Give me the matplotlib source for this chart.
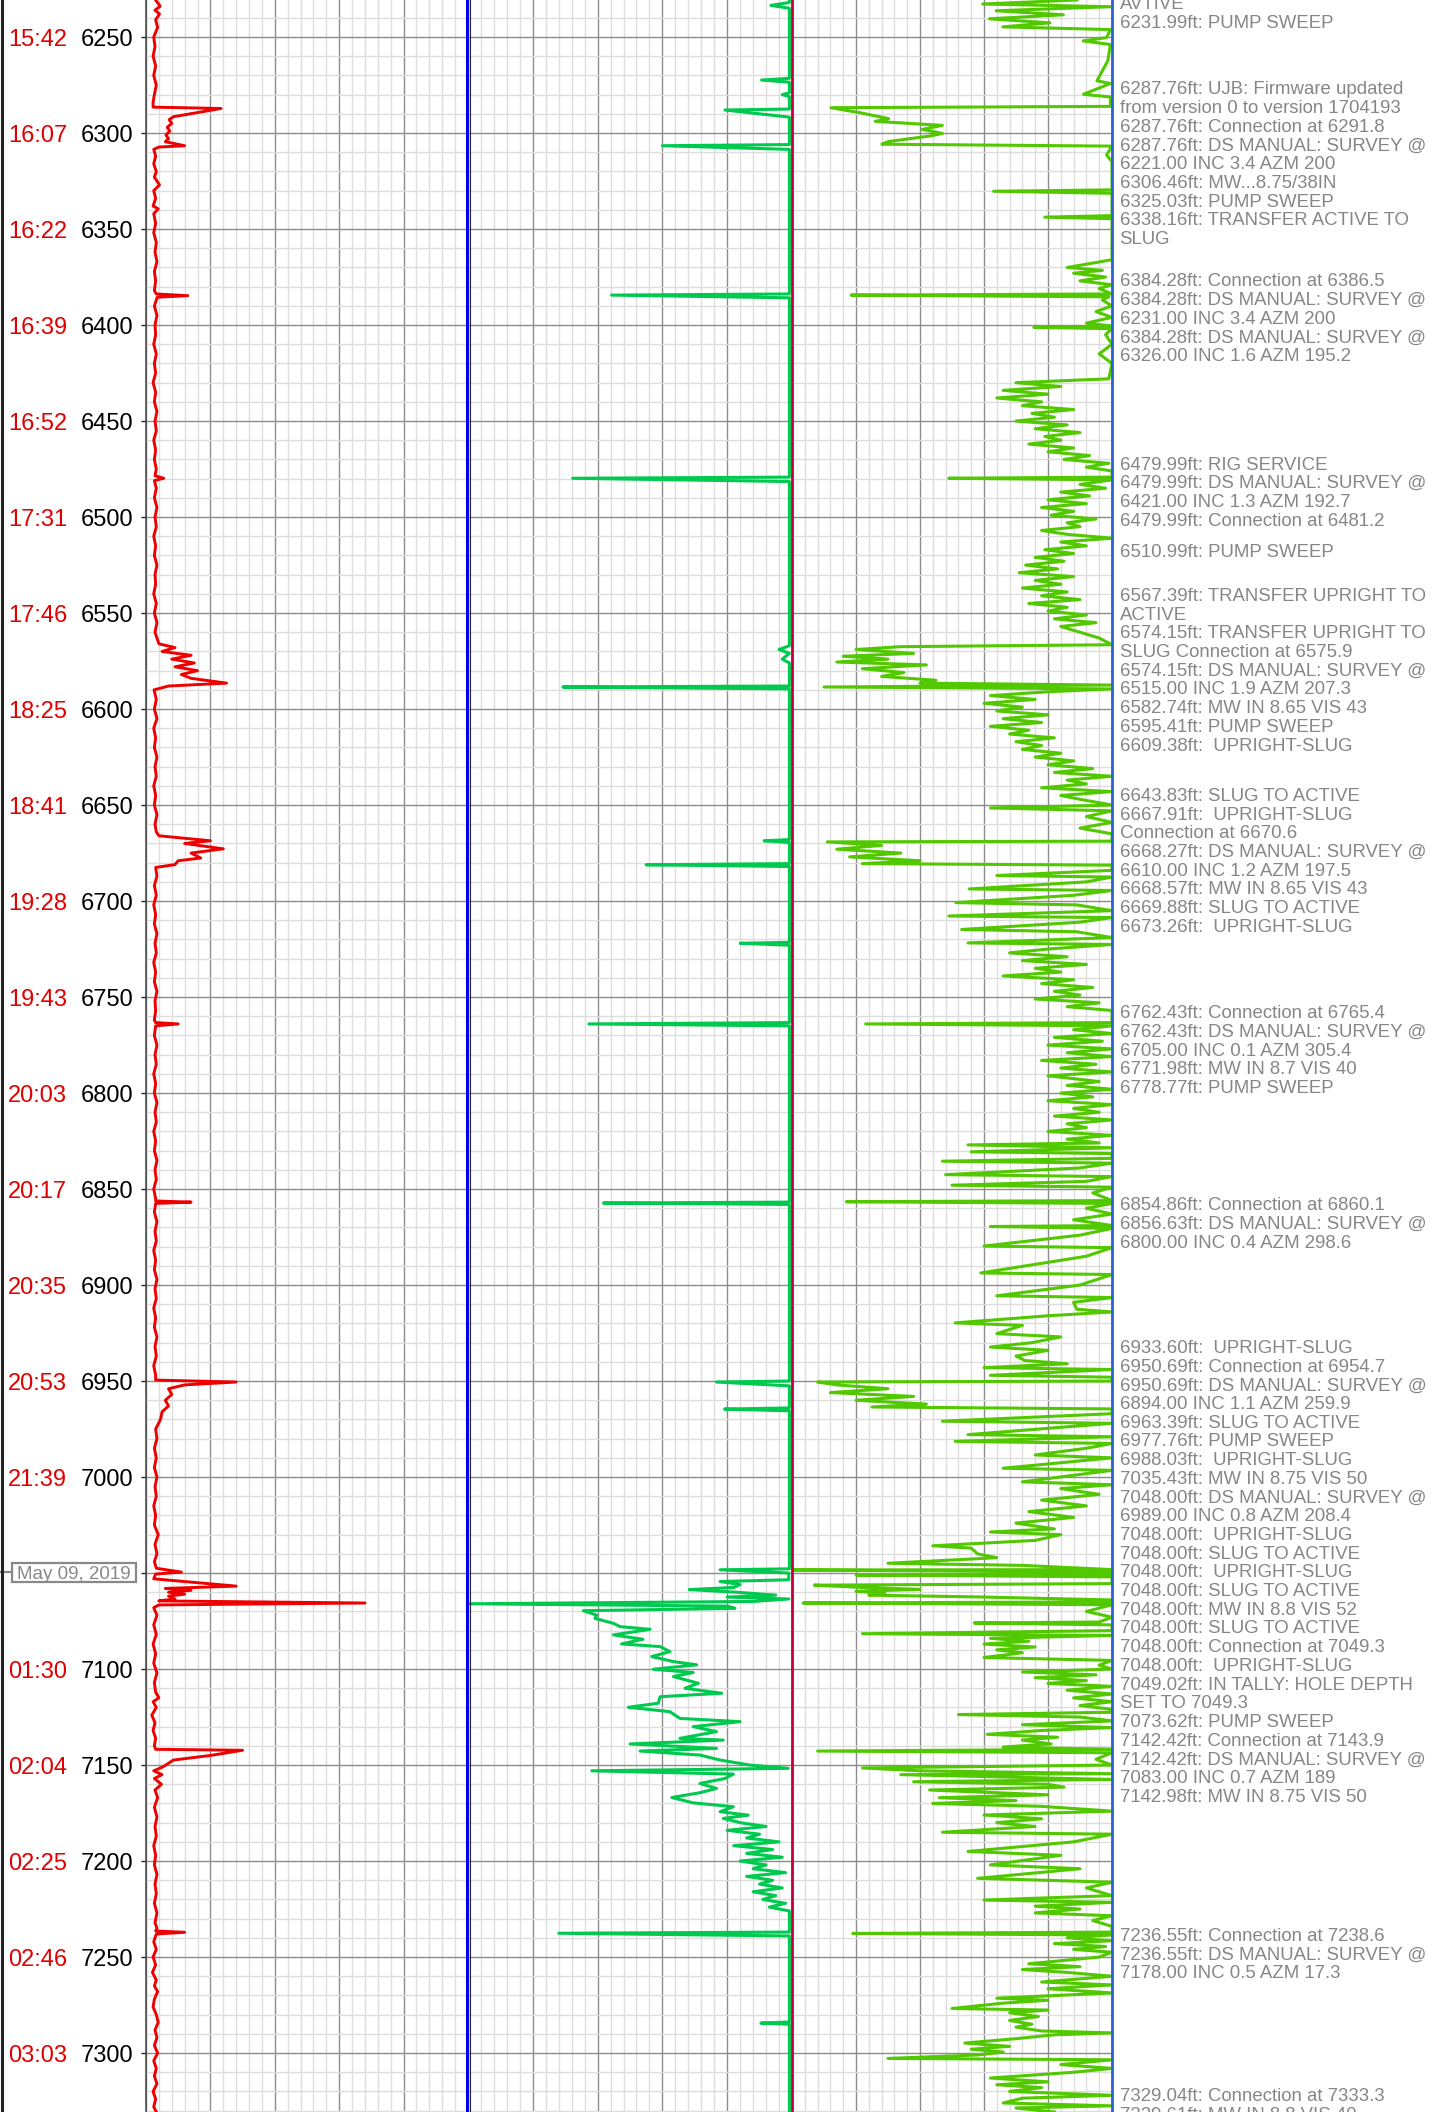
import matplotlib
matplotlib.use("Agg")
import matplotlib.pyplot as plt
import matplotlib.transforms as mtrans
from matplotlib.lines import Line2D
from matplotlib.patches import Rectangle
from matplotlib.ticker import MultipleLocator

plt.rcParams["font.family"] = ["Liberation Sans", "DejaVu Sans"]

# depth axis (the 7050 row sits under the date marker)
depth_ticks = list(range(6250, 7301, 50))
time_labels = ["15:42", "16:07", "16:22", "16:39", "16:52", "17:31", "17:46", "18:25",
               "18:41", "19:28", "19:43", "20:03", "20:17", "20:35", "20:53", "21:39",
               "", "01:30", "02:04", "02:25", "02:46", "03:03"]
date_label = "May 09, 2019"
date_depth = 7049.5

# track 1 (red) : depth, value (0-100 scale)
red_pts = [
    (6230.7, 3.0), (6234, 4.4), (6236, 2.8), (6238, 4.2), (6241, 3.0), (6245, 3.6), (6250, 2.4),
    (6255, 2.8), (6260, 2.2), (6265, 3.0), (6270, 2.4), (6275, 3.2), (6280, 2.6), (6284, 2.2),
    (6286.5, 2.2), (6287.2, 23.3), (6291.5, 8.5), (6293, 7.2), (6295, 8.0), (6297, 6.6),
    (6299, 7.4), (6301, 6.2), (6303, 7.0), (6304.5, 6.0), (6306.6, 12.0), (6307.3, 4.0),
    (6308.5, 2.4), (6312, 3.0), (6316, 2.4), (6320, 3.2), (6323, 2.6), (6327, 4.2), (6330, 2.4),
    (6334, 3.0), (6338, 2.2), (6339.5, 3.8), (6342, 2.4), (6347, 3.0), (6352, 2.4), (6357, 3.2),
    (6362, 2.8), (6367, 3.4), (6372, 2.6), (6377, 3.0), (6382, 2.6), (6383.8, 3.2),
    (6384.7, 13.0), (6385.5, 3.5), (6390, 2.6), (6395, 3.4), (6400, 2.8), (6405, 3.0),
    (6410, 2.4), (6415, 3.2), (6420, 2.6), (6425, 3.0), (6430, 2.2), (6435, 3.0), (6440, 2.6),
    (6445, 3.4), (6450, 2.8), (6455, 3.2), (6460, 2.4), (6465, 3.0), (6470, 2.6), (6475, 3.2),
    (6478.5, 2.8), (6479.8, 5.5), (6481, 2.6), (6485, 3.2), (6490, 2.6), (6495, 3.4),
    (6500, 2.8), (6505, 3.2), (6510, 2.4), (6515, 3.0), (6520, 2.6), (6525, 3.4), (6530, 2.8),
    (6535, 3.0), (6540, 2.4), (6545, 3.2), (6550, 2.6), (6555, 3.4), (6560, 2.8), (6564, 3.6),
    (6566, 4.0), (6568, 9.0), (6570, 5.0), (6572, 14.0), (6574, 8.0), (6576, 15.0), (6578, 9.0),
    (6580, 16.0), (6582, 11.0), (6584, 14.0), (6586.5, 25.0), (6588, 7.0), (6590, 2.5),
    (6595, 3.2), (6600, 2.6), (6605, 3.4), (6610, 2.4), (6615, 3.0), (6620, 2.6), (6625, 3.4),
    (6630, 2.8), (6635, 3.2), (6640, 2.4), (6645, 3.0), (6650, 2.6), (6655, 3.4), (6660, 2.8),
    (6664, 3.2), (6666, 4.0), (6668.6, 20.0), (6670, 12.0), (6672.8, 24.0), (6675, 14.0),
    (6677.6, 17.0), (6679, 10.0), (6681, 9.0), (6682.5, 3.0), (6687, 3.4), (6692, 2.6),
    (6697, 3.2), (6702, 2.4), (6707, 3.0), (6712, 2.6), (6717, 3.4), (6722, 2.8), (6727, 3.2),
    (6732, 2.4), (6737, 3.0), (6742, 2.6), (6747, 3.4), (6752, 2.8), (6757, 3.0), (6762, 2.6),
    (6763.3, 3.0), (6764, 10.0), (6765, 3.0), (6770, 2.6), (6775, 3.4), (6780, 2.8),
    (6785, 3.2), (6790, 2.4), (6795, 3.0), (6800, 2.6), (6805, 3.4), (6810, 2.8), (6815, 3.2),
    (6820, 2.4), (6825, 3.0), (6830, 2.6), (6835, 3.4), (6840, 2.8), (6845, 3.2), (6850, 2.4),
    (6855, 3.0), (6856.2, 3.0), (6856.8, 14.0), (6857.5, 3.0), (6862, 2.6), (6867, 3.4),
    (6872, 2.8), (6877, 3.2), (6882, 2.4), (6887, 3.0), (6892, 2.6), (6897, 3.4), (6902, 2.8),
    (6907, 3.2), (6912, 2.4), (6917, 3.0), (6922, 2.6), (6927, 3.4), (6932, 2.8), (6937, 3.2),
    (6942, 2.4), (6947, 3.0), (6949.5, 3.0), (6950.5, 28.0), (6952, 12.0), (6954, 7.0),
    (6957, 8.0), (6960, 6.0), (6963, 7.0), (6966, 5.0), (6970, 4.5), (6975, 3.0), (6980, 3.4),
    (6985, 2.6), (6990, 3.2), (6995, 2.6), (7000, 3.4), (7005, 2.8), (7010, 3.2), (7015, 2.4),
    (7020, 3.0), (7025, 2.6), (7030, 3.8), (7035, 2.8), (7040, 3.4), (7044, 2.6), (7047.5, 3.2),
    (7049.5, 11.0), (7050.5, 3.0), (7053, 2.4), (7056.8, 28.0), (7058, 6.0), (7059, 14.0),
    (7060, 7.0), (7061, 12.0), (7062, 7.0), (7063.5, 9.0), (7064.5, 4.0), (7065.6, 68.0),
    (7066.6, 4.0), (7068, 2.4), (7072, 3.4), (7077, 2.4), (7082, 3.2), (7087, 2.2), (7092, 3.0),
    (7097, 2.4), (7102, 3.4), (7107, 2.6), (7112, 3.0), (7115, 4.0), (7117, 2.2), (7120, 3.2),
    (7124, 1.8), (7128, 2.8), (7132, 2.2), (7136, 3.0), (7140, 2.6), (7141.8, 3.0),
    (7142.3, 30.0), (7145, 20.0), (7147.4, 8.5), (7150.9, 5.3), (7153, 2.4), (7155, 5.0),
    (7157, 2.6), (7160, 4.8), (7163, 2.8), (7167, 3.6), (7172, 2.6), (7177, 3.4), (7182, 2.8),
    (7187, 3.2), (7192, 2.4), (7197, 3.0), (7202, 2.6), (7207, 3.4), (7212, 2.8), (7217, 3.2),
    (7222, 2.6), (7227, 3.4), (7232, 2.8), (7235, 3.4), (7236.4, 3.0), (7237.1, 12.0),
    (7238, 3.2), (7242, 2.4), (7246, 3.2), (7250, 2.2), (7254, 3.0), (7258, 2.0), (7262, 3.2),
    (7265, 2.6), (7268, 3.6), (7272, 2.6), (7276, 2.2), (7280, 3.2), (7284, 3.8), (7288, 2.8),
    (7292, 3.4), (7296, 2.6), (7300, 3.6), (7304, 2.4), (7308, 3.2), (7312, 2.6), (7316, 3.4),
    (7320, 2.2), (7324, 3.0), (7328, 2.4), (7330.7, 3.2),
]

# track 2 (green)
green_pts = [
    (6230.7, 99.2), (6232, 99.2), (6233.5, 93.5), (6235, 99.2), (6271.5, 99.2), (6272.4, 90.6),
    (6273.5, 99.2), (6279, 99.2), (6280, 97.0), (6281, 99.2), (6287.5, 99.2), (6288, 79.3),
    (6291.7, 99.2), (6306, 99.2), (6306.6, 60.0), (6308.5, 99.2), (6383.8, 99.2), (6384.4, 44.3),
    (6385.8, 99.2), (6479.2, 99.2), (6479.8, 32.3), (6481.5, 99.2), (6567, 99.2), (6569, 96.0),
    (6571, 99.2), (6574, 97.0), (6576, 99.2), (6588, 99.2), (6588.5, 29.3), (6589.5, 99.2),
    (6668, 99.2), (6668.6, 91.4), (6669.5, 99.2), (6680.5, 99.2), (6681.1, 55.0), (6682, 99.2),
    (6721.5, 99.2), (6722, 84.0), (6723, 99.2), (6763.3, 99.2), (6764, 37.3), (6765, 99.2),
    (6856.8, 99.2), (6857.3, 41.8), (6858, 99.2), (6950, 99.2), (6950.5, 76.7), (6952.5, 99.2),
    (6964, 99.2), (6964.6, 79.2), (6965.5, 99.2), (7047.8, 99.2), (7048.3, 77.8), (7050, 99.0),
    (7053.5, 99.0), (7054.4, 77.8), (7056, 84.0), (7057.5, 82.0), (7058.6, 68.3), (7060, 83.0),
    (7061.5, 95.0), (7062.5, 80.0), (7063.5, 99.0), (7064.8, 88.0), (7066, 0.6), (7067.2, 80.0),
    (7068.4, 82.4), (7069.6, 35.6), (7071.9, 39.7), (7073.6, 39.2), (7076.2, 44.9),
    (7077.9, 46.9), (7079.3, 56.2), (7082.2, 44.9), (7084.5, 54.0), (7086.9, 47.4),
    (7088.3, 59.3), (7090.9, 62.3), (7093.5, 56.7), (7096.1, 63.4), (7097.8, 70.6),
    (7100.1, 57.2), (7101.8, 69.5), (7103.9, 63.4), (7107.4, 71.1), (7110, 67.0), (7112.6, 78.3),
    (7114.4, 59.3), (7117.8, 58.7), (7119.9, 49.5), (7122.2, 62.3), (7125.7, 65.4), (7127.4, 84.0),
    (7130, 69.5), (7132.6, 76.7), (7136.1, 65.4), (7137, 78.8), (7139, 50.0), (7141.3, 76.7),
    (7142.7, 53.1), (7144.8, 71.6), (7147.4, 77.8), (7150, 87.0), (7151.7, 98.8), (7153, 38.2),
    (7154.7, 81.9), (7157, 79.3), (7159.6, 71.6), (7162.2, 76.7), (7164.4, 71.6), (7166.9, 62.9),
    (7169.7, 69.5), (7171.7, 81.9), (7174.3, 77.8), (7176.1, 86.5), (7177.8, 78.8), (7180, 84.0),
    (7182, 92.0), (7184, 80.0), (7186, 90.0), (7188, 86.0), (7190, 96.0), (7192, 82.0),
    (7194, 94.0), (7196, 86.0), (7198, 97.0), (7200, 84.0), (7202, 92.0), (7204, 88.0),
    (7206, 98.0), (7208, 86.0), (7210, 94.0), (7212, 90.0), (7214, 97.0), (7216, 88.0),
    (7218, 95.0), (7220, 91.0), (7222, 98.0), (7224, 93.0), (7226, 99.2), (7237, 99.2),
    (7237.6, 28.0), (7239, 99.2), (7283.8, 99.2), (7284.4, 90.4), (7285, 99.2), (7330.7, 99.2),
]

# track 3 (lime)
lime_pts = [
    (6230.7, 89), (6232.8, 59.6), (6234.2, 99.5), (6236.3, 63.8), (6238.4, 84.8), (6240.5, 61.7),
    (6242.6, 80.6), (6244.7, 65.9), (6246.1, 99.5), (6250.3, 98.3), (6252, 91), (6253.9, 99.5),
    (6262.3, 98.7), (6272.8, 95.3), (6274.2, 99.5), (6279.8, 91.1), (6281.2, 99.5), (6286.1, 99.5),
    (6286.8, 12.2), (6289.6, 21.8), (6292.5, 30.2), (6293.9, 26), (6296, 47), (6298.1, 40.7),
    (6300.2, 47), (6301.6, 42.8), (6304.4, 30.2), (6305.8, 28.1), (6306.8, 100), (6311.4, 98.3),
    (6314.9, 100), (6329.6, 100), (6330.3, 63), (6331.4, 100), (6343, 100), (6343.8, 79),
    (6344.6, 100), (6366, 100), (6370, 86), (6371.5, 97), (6373, 88), (6375, 98), (6377, 90),
    (6379, 100), (6381, 96), (6383.8, 100), (6384.4, 18.5), (6385.3, 99), (6387, 97), (6390, 100),
    (6393, 95), (6396, 100), (6399, 92), (6400.5, 100), (6401.2, 75.6), (6401.9, 100), (6405, 98),
    (6410, 100), (6415, 96), (6420, 100), (6428, 99), (6430, 70), (6432, 84), (6434, 66),
    (6436, 80), (6438, 64), (6440, 78), (6442, 72), (6444, 88), (6446, 75), (6448, 82), (6450, 70),
    (6452, 86), (6454, 76), (6456, 90), (6458, 79), (6460, 84), (6462, 74), (6464, 88), (6466, 80),
    (6468, 93), (6470, 85), (6472, 99), (6474, 92), (6476, 100), (6479.2, 100), (6479.8, 49),
    (6480.6, 100), (6483, 90), (6485, 98), (6487, 84), (6489, 93), (6491, 80), (6493, 92),
    (6495, 78), (6497, 88), (6499, 81), (6501, 95), (6503, 86), (6505, 90), (6507, 78), (6509, 86),
    (6511, 100), (6513, 84), (6515, 92), (6517, 79), (6519, 88), (6521, 76), (6523, 85), (6525, 73),
    (6527, 83), (6529, 71), (6531, 88), (6533, 76), (6535, 84), (6537, 72), (6539, 86), (6541, 78),
    (6543, 90), (6545, 74), (6547, 86), (6549, 80), (6551, 92), (6553, 82), (6555, 95), (6557, 84),
    (6560, 90), (6563, 96), (6566.5, 100), (6567.5, 34), (6569, 20), (6571, 38), (6572.5, 16),
    (6574, 30), (6575.5, 14), (6577, 42), (6579, 22), (6581, 35), (6583, 28), (6585, 45),
    (6586.5, 40), (6587.5, 100), (6588.5, 10), (6589.5, 100), (6591, 80), (6593, 62), (6595, 76),
    (6597, 60), (6599, 72), (6601, 64), (6603, 80), (6605, 66), (6607, 78), (6609, 62), (6611, 74),
    (6613, 68), (6615, 82), (6617, 70), (6619, 78), (6621, 72), (6623, 84), (6625, 76), (6627, 88),
    (6629, 80), (6631, 94), (6633, 82), (6635, 100), (6637, 86), (6639, 92), (6641, 78),
    (6643, 100), (6645, 84), (6647, 90), (6650, 100), (6651.5, 62), (6653, 100), (6656, 92),
    (6659, 100), (6662, 90), (6665, 100), (6668.8, 100), (6669.2, 11), (6671, 28), (6673, 14),
    (6675, 34), (6677, 18), (6679, 40), (6680.5, 22), (6681.3, 100), (6684, 100), (6686.7, 64),
    (6687.5, 100), (6690, 92), (6693.7, 55.4), (6694.5, 100), (6697, 88), (6700.8, 51.2),
    (6702, 89), (6705, 100), (6707.8, 49), (6708.6, 100), (6711, 90), (6714.8, 53), (6716, 89),
    (6719, 100), (6721.8, 55), (6722.6, 100), (6725, 80), (6727, 68), (6729, 86), (6731, 72),
    (6733, 92), (6735, 76), (6737, 84), (6739, 66), (6741, 88), (6743, 78), (6745, 94), (6747, 82),
    (6749, 90), (6751, 76), (6753, 96), (6755, 86), (6757, 100), (6763.3, 100), (6764, 23),
    (6765, 100), (6767, 88), (6769, 100), (6771, 82), (6773, 97), (6775, 80), (6777, 100),
    (6779, 86), (6781, 100), (6783, 78), (6785, 95), (6787, 84), (6789, 100), (6791, 80), (6794, 96),
    (6796, 86), (6798, 100), (6800, 84), (6802, 94), (6804, 80), (6806, 100), (6808, 88), (6810, 96),
    (6812, 82), (6814, 100), (6816, 86), (6818, 92), (6820, 80), (6822, 100), (6824, 86),
    (6826, 96), (6827, 55), (6828.5, 100), (6830.6, 56), (6831.5, 100), (6834, 100),
    (6835.5, 47), (6836.5, 100), (6839, 90), (6842.5, 48), (6843.5, 100), (6846, 92), (6848, 50),
    (6849, 100), (6852, 94), (6856, 100), (6856.6, 17), (6857.5, 100), (6860, 92), (6863, 100),
    (6866, 88), (6869, 100), (6869.5, 62), (6870.5, 100), (6874, 90), (6879.7, 60), (6880.5, 100),
    (6885, 92), (6893.7, 59), (6894.5, 100), (6900, 90), (6905.6, 64), (6906.5, 100), (6909, 88),
    (6912.6, 89), (6914, 100), (6916, 80), (6919.7, 51), (6921, 72), (6925.3, 64), (6927, 84),
    (6930, 75), (6932.3, 62), (6934, 80), (6937, 70), (6939.3, 72.8), (6941, 86), (6943, 60),
    (6944, 100), (6947, 62), (6948, 100), (6950, 100), (6950.5, 8), (6952, 14), (6954, 30),
    (6956, 12), (6958, 38), (6960, 20), (6962, 42), (6963.5, 25), (6964.5, 100), (6967, 100),
    (6970.9, 47), (6972, 100), (6977.9, 55), (6979, 100), (6981.4, 51), (6982.5, 100), (6985, 92),
    (6988.5, 76), (6990, 100), (6995.4, 66), (6996.5, 100), (7002.5, 72), (7004, 100), (7006, 84),
    (7009, 96), (7012, 78), (7015, 92), (7018, 74), (7021, 88), (7024, 70), (7027, 82),
    (7028.6, 62), (7030, 84), (7033, 76), (7035.8, 44), (7037, 56), (7040, 58), (7042, 64),
    (7044.9, 30), (7046, 72), (7048.2, 100), (7048.4, 0.5), (7049.5, 100), (7050.5, 100),
    (7051, 20), (7052, 100), (7055.5, 100), (7056.3, 7), (7057.5, 22), (7058.5, 40), (7059.5, 20),
    (7060.5, 29), (7061.5, 24), (7062.5, 60), (7064, 100), (7065, 100), (7065.6, 3.5),
    (7066.5, 100), (7070, 92), (7073, 100), (7075.5, 96), (7076, 57), (7077, 100), (7080, 100),
    (7081.6, 22), (7082.5, 100), (7084, 62), (7085.5, 74), (7087, 60), (7088.5, 76), (7090, 64),
    (7091.5, 72), (7094, 60), (7095.5, 100), (7098, 96), (7100, 100), (7101.5, 72), (7103, 95),
    (7104.5, 76), (7106, 92), (7107.5, 80), (7109, 100), (7111, 86), (7113, 100), (7115, 88),
    (7117, 100), (7119, 90), (7121, 100), (7122.5, 100), (7123.7, 52), (7125, 90), (7127, 100),
    (7129, 72), (7130.5, 100), (7132, 78), (7134, 61), (7135.5, 83), (7137, 72), (7139, 81),
    (7140.6, 66), (7141.8, 100), (7142.7, 8), (7143.6, 100), (7147, 95), (7150, 100),
    (7151.5, 22), (7153, 40), (7154.5, 100), (7155, 34), (7156, 60), (7157.5, 100), (7158.7, 38),
    (7160, 80), (7161.5, 85), (7163, 43), (7165.5, 80), (7167, 46), (7168.5, 70), (7170, 44),
    (7171.5, 78), (7174, 100), (7176, 60), (7178, 78), (7180, 64), (7182, 76), (7185, 47),
    (7186, 100), (7190, 88), (7195, 55), (7197, 84), (7202, 62), (7204, 90), (7209, 58),
    (7211, 100), (7214, 92), (7218, 100), (7220.3, 60), (7221.5, 100), (7223.5, 76), (7225, 90),
    (7227, 76), (7228.5, 100), (7231, 94), (7234, 100), (7237, 100), (7237.7, 19), (7238.5, 100),
    (7240, 86), (7241.5, 100), (7243, 82), (7244.5, 98), (7246, 88), (7247.5, 100), (7250, 96),
    (7253.5, 74), (7255, 90), (7256.5, 72), (7258, 86), (7260, 100), (7263, 78), (7264.5, 100),
    (7266.5, 80), (7268.7, 100), (7271.4, 64), (7272.5, 80), (7274, 66), (7276.8, 50),
    (7277.6, 80), (7279, 68), (7281, 77), (7283, 68), (7285, 75), (7286.5, 70), (7288.5, 78),
    (7289.5, 100), (7290.5, 82), (7292.5, 70), (7294.8, 54), (7296.5, 68), (7298, 56),
    (7299.5, 66), (7301, 58), (7302.8, 30), (7303.5, 100), (7306, 84), (7308, 100), (7310, 88),
    (7313, 62), (7315, 80), (7316.5, 64), (7318, 78), (7320, 68), (7322, 100), (7323.5, 72),
    (7326, 66), (7327.5, 100), (7328.6, 70), (7330.7, 82),
]

# event notes: depth of first line, lines of text
note_depths = [6232.2, 6276.5, 6376.5, 6471.9, 6517.4, 6540.3, 6644.5, 6757.7, 6857.7,
               6932.0, 7238.3, 7321.8]
note_blocks = [
    ["AVTIVE", "6231.99ft: PUMP SWEEP"],
    ["6287.76ft: UJB: Firmware updated", "from version 0 to version 1704193",
     "6287.76ft: Connection at 6291.8", "6287.76ft: DS MANUAL: SURVEY @",
     "6221.00 INC 3.4 AZM 200", "6306.46ft: MW...8.75/38IN", "6325.03ft: PUMP SWEEP",
     "6338.16ft: TRANSFER ACTIVE TO", "SLUG"],
    ["6384.28ft: Connection at 6386.5", "6384.28ft: DS MANUAL: SURVEY @",
     "6231.00 INC 3.4 AZM 200", "6384.28ft: DS MANUAL: SURVEY @", "6326.00 INC 1.6 AZM 195.2"],
    ["6479.99ft: RIG SERVICE", "6479.99ft: DS MANUAL: SURVEY @", "6421.00 INC 1.3 AZM 192.7",
     "6479.99ft: Connection at 6481.2"],
    ["6510.99ft: PUMP SWEEP"],
    ["6567.39ft: TRANSFER UPRIGHT TO", "ACTIVE", "6574.15ft: TRANSFER UPRIGHT TO",
     "SLUG Connection at 6575.9", "6574.15ft: DS MANUAL: SURVEY @", "6515.00 INC 1.9 AZM 207.3",
     "6582.74ft: MW IN 8.65 VIS 43", "6595.41ft: PUMP SWEEP", "6609.38ft:  UPRIGHT-SLUG"],
    ["6643.83ft: SLUG TO ACTIVE", "6667.91ft:  UPRIGHT-SLUG", "Connection at 6670.6",
     "6668.27ft: DS MANUAL: SURVEY @", "6610.00 INC 1.2 AZM 197.5", "6668.57ft: MW IN 8.65 VIS 43",
     "6669.88ft: SLUG TO ACTIVE", "6673.26ft:  UPRIGHT-SLUG"],
    ["6762.43ft: Connection at 6765.4", "6762.43ft: DS MANUAL: SURVEY @",
     "6705.00 INC 0.1 AZM 305.4", "6771.98ft: MW IN 8.7 VIS 40", "6778.77ft: PUMP SWEEP"],
    ["6854.86ft: Connection at 6860.1", "6856.63ft: DS MANUAL: SURVEY @",
     "6800.00 INC 0.4 AZM 298.6"],
    ["6933.60ft:  UPRIGHT-SLUG", "6950.69ft: Connection at 6954.7",
     "6950.69ft: DS MANUAL: SURVEY @", "6894.00 INC 1.1 AZM 259.9", "6963.39ft: SLUG TO ACTIVE",
     "6977.76ft: PUMP SWEEP", "6988.03ft:  UPRIGHT-SLUG", "7035.43ft: MW IN 8.75 VIS 50",
     "7048.00ft: DS MANUAL: SURVEY @", "6989.00 INC 0.8 AZM 208.4", "7048.00ft:  UPRIGHT-SLUG",
     "7048.00ft: SLUG TO ACTIVE", "7048.00ft:  UPRIGHT-SLUG", "7048.00ft: SLUG TO ACTIVE",
     "7048.00ft: MW IN 8.8 VIS 52", "7048.00ft: SLUG TO ACTIVE", "7048.00ft: Connection at 7049.3",
     "7048.00ft:  UPRIGHT-SLUG", "7049.02ft: IN TALLY: HOLE DEPTH", "SET TO 7049.3",
     "7073.62ft: PUMP SWEEP", "7142.42ft: Connection at 7143.9", "7142.42ft: DS MANUAL: SURVEY @",
     "7083.00 INC 0.7 AZM 189", "7142.98ft: MW IN 8.75 VIS 50"],
    ["7236.55ft: Connection at 7238.6", "7236.55ft: DS MANUAL: SURVEY @",
     "7178.00 INC 0.5 AZM 17.3"],
    ["7329.04ft: Connection at 7333.3", "7329.61ft: MW IN 8.8 VIS 40"],
]

W, H = 1440, 2112
fig = plt.figure(figsize=(W / 100, H / 100), dpi=100)
top_depth, bottom_depth = 6230.7, 7330.7
px_per_ft = H / (bottom_depth - top_depth)

tracks = [(146, 322), (468, 324), (792, 320)]
axs = []
for left, width in tracks:
    ax = fig.add_axes([left / W, 0, width / W, 1])
    ax.set_xlim(0, 100)
    ax.set_ylim(bottom_depth, top_depth)
    ax.xaxis.set_major_locator(MultipleLocator(20))
    ax.xaxis.set_minor_locator(MultipleLocator(4))
    ax.yaxis.set_major_locator(MultipleLocator(50))
    ax.yaxis.set_minor_locator(MultipleLocator(10))
    ax.grid(which="minor", color="#dddddd", lw=1.0)
    ax.grid(which="major", color="#8c8c8c", lw=1.0)
    ax.set_axisbelow(True)
    ax.tick_params(which="both", bottom=False, labelbottom=False, left=False, labelleft=False)
    for s in ax.spines.values():
        s.set_visible(False)
    axs.append(ax)
ax1, ax2, ax3 = axs

# curves
ax1.plot([v for d, v in red_pts], [d for d, v in red_pts], color="#ee0000", lw=2.1)
ax2.plot([v for d, v in green_pts], [d for d, v in green_pts], color="#00c94f", lw=2.2)
ax3.plot([v for d, v in lime_pts], [d for d, v in lime_pts], color="#52c800", lw=2.2)

# depth ticks on track 1
ax1.set_yticks(depth_ticks)
ax1.set_yticklabels(["" if t == "" else str(d) for d, t in zip(depth_ticks, time_labels)])
ax1.tick_params(axis="y", which="major", left=True, labelleft=True, length=3.6, width=1.0,
                color="#222222", labelsize=17, pad=5.5, labelcolor="black")

trans1 = mtrans.blended_transform_factory(fig.transFigure, ax1.transData)
for d, t in zip(depth_ticks, time_labels):
    if t:
        ax1.text(67 / W, d, t, transform=trans1, ha="right", va="center_baseline",
                 color="#e00000", fontsize=17, clip_on=False)

# date marker
box_h = 19 / px_per_ft
ax1.add_patch(Rectangle((12 / W, date_depth - box_h / 2), 124 / W, box_h, transform=trans1,
                        fc="white", ec="#888888", lw=1.6, clip_on=False, zorder=10))
ax1.text(74 / W, date_depth, date_label, transform=trans1, ha="center", va="center_baseline",
         color="#888888", fontsize=13.5, clip_on=False, zorder=11)
ax1.add_line(Line2D([0, 12 / W], [date_depth, date_depth], transform=trans1, color="#888888",
                    lw=1.6, clip_on=False, zorder=11))

# notes
trans3 = mtrans.blended_transform_factory(fig.transFigure, ax3.transData)
line_step = 18.7 / px_per_ft
for d0, lines in zip(note_depths, note_blocks):
    for i, s in enumerate(lines):
        ax3.text(1119.5 / W, d0 + i * line_step, s, transform=trans3, ha="left",
                 va="center_baseline", color="#868686", fontsize=13.4, clip_on=False)

# frame and track borders
fig.add_artist(Line2D([1.5 / W] * 2, [0, 1], color="#222222", lw=2.2))
fig.add_artist(Line2D([146 / W] * 2, [0, 1], color="#444444", lw=1.1))
fig.add_artist(Line2D([467 / W] * 2, [0, 1], color="#0000ee", lw=2.2))
fig.add_artist(Line2D([469.5 / W] * 2, [0, 1], color="#222222", lw=0.8))
fig.add_artist(Line2D([791.8 / W] * 2, [0, 1], color="#c8003c", lw=2.0))
fig.add_artist(Line2D([1112 / W] * 2, [0, 1], color="#2a62d4", lw=2.0))

fig.savefig("out.png", dpi=100)
